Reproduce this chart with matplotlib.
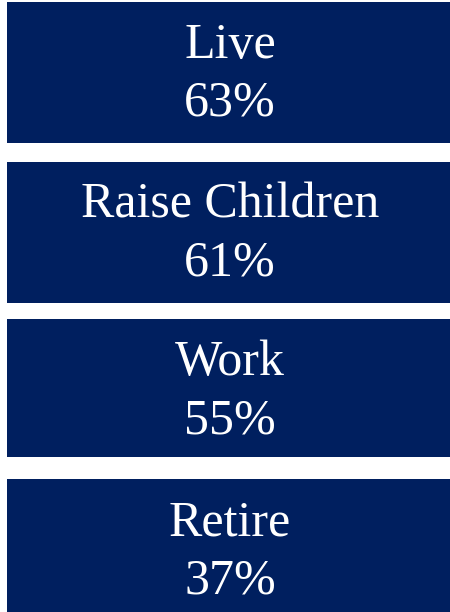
import matplotlib
matplotlib.use('Agg')
import matplotlib.pyplot as plt

categories = ["Live", "Raise Children", "Work", "Retire"]
shares = [63, 61, 55, 37]

# box layout in pixels (top, bottom)
box_top = [2, 162, 319, 479]
box_bottom = [143, 303, 457, 612]
box_left, box_right = 7, 450
navy = '#001f5f'

fig = plt.figure(figsize=(4.5, 6.12), dpi=100)
ax = fig.add_axes([0, 0, 1, 1])
ax.set_xlim(0, 450)
ax.set_ylim(612, 0)
ax.axis('off')

for cat, val, top, bot in zip(categories, shares, box_top, box_bottom):
    ax.barh((top + bot) / 2, box_right - box_left, height=bot - top,
            left=box_left, color=navy, edgecolor='none')
    # two lines of text, baselines measured from the box top
    ax.text(230, top + 56, cat, color='white', ha='center', va='baseline',
            family='Liberation Serif', fontsize=36)
    ax.text(230, top + 114, f"{val}%", color='white', ha='center', va='baseline',
            family='Liberation Serif', fontsize=36)

fig.savefig('out.png', dpi=100)
